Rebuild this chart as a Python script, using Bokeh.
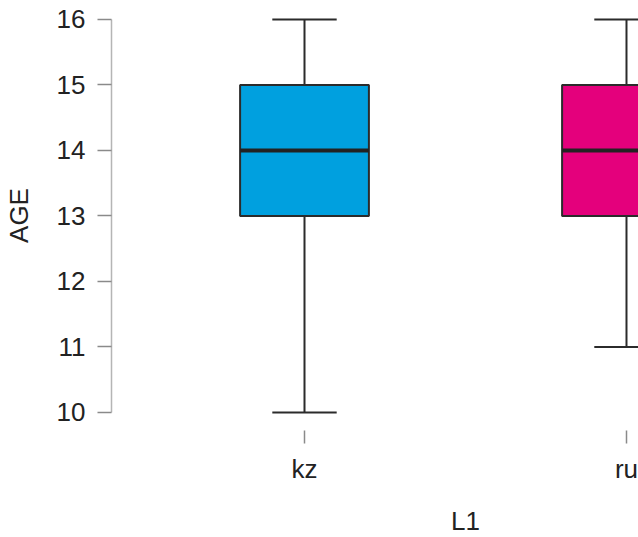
from bokeh.plotting import figure
from bokeh.models import ColumnDataSource, Range1d, FixedTicker, LinearAxis
from bokeh.embed import file_html
from bokeh.resources import INLINE

# ---- data ----
categories = ["kz", "ru"]
q_min = [10, 11]
q1 = [13, 13]
median = [14, 14]
q3 = [15, 15]
q_max = [16, 16]
colors = ["#00A0DF", "#E4007C"]
y_ticks = [10, 11, 12, 13, 14, 15, 16]
x_title = "L1"
y_title = "AGE"

pos = [i + 1 for i in range(len(categories))]
box_w = 0.4
cap_w = 0.2

src = ColumnDataSource(dict(
    x=pos,
    xl=[p_ - box_w / 2 for p_ in pos],
    xr=[p_ + box_w / 2 for p_ in pos],
    cl=[p_ - cap_w / 2 for p_ in pos],
    cr=[p_ + cap_w / 2 for p_ in pos],
    mn=q_min, q1=q1, med=median, q3=q3, mx=q_max, color=colors,
))

FONT = "Liberation Sans"
TXT = "#222222"
FS = "26px"

p = figure(
    output_backend="svg", toolbar_location=None,
    frame_width=528, frame_height=430,
    x_range=Range1d(0.4006, 2.0404), y_range=Range1d(9.725, 16.29),
    min_border_left=0, min_border_right=0, min_border_top=0, min_border_bottom=0,
)
p.outline_line_color = None
p.xgrid.visible = False
p.ygrid.visible = False
p.background_fill_color = "white"
p.border_fill_color = "white"

lc = "#2b2b2b"
# whiskers
p.segment(x0="x", x1="x", y0="q3", y1="mx", source=src, line_color=lc, line_width=2)
p.segment(x0="x", x1="x", y0="mn", y1="q1", source=src, line_color=lc, line_width=2)
# caps
p.segment(x0="cl", x1="cr", y0="mx", y1="mx", source=src, line_color=lc, line_width=2)
p.segment(x0="cl", x1="cr", y0="mn", y1="mn", source=src, line_color=lc, line_width=2)
# boxes
p.vbar(x="x", width=box_w, bottom="q1", top="q3", source=src,
       fill_color="color", line_color=lc, line_width=2)
# medians
p.segment(x0="xl", x1="xr", y0="med", y1="med", source=src, line_color="#222222", line_width=4)

# y axis
ya = p.yaxis[0]
ya.ticker = FixedTicker(ticks=y_ticks)
ya.bounds = (min(y_ticks), max(y_ticks))
ya.axis_line_color = "#b5b5b5"
ya.axis_line_width = 1.5
ya.major_tick_line_color = "#8a8a8a"
ya.major_tick_line_width = 1.5
ya.major_tick_out = 14
ya.major_tick_in = 0
ya.minor_tick_line_color = None
ya.major_label_standoff = 12
ya.major_label_text_font = FONT
ya.major_label_text_font_size = FS
ya.major_label_text_color = TXT
ya.axis_label = y_title
ya.axis_label_text_font = FONT
ya.axis_label_text_font_size = FS
ya.axis_label_text_font_style = "normal"
ya.axis_label_text_color = TXT
ya.axis_label_standoff = 20

# x axis (category ticks)
xa = p.xaxis[0]
xa.ticker = FixedTicker(ticks=pos)
xa.major_label_overrides = {p_: c for p_, c in zip(pos, categories)}
xa.axis_line_color = None
xa.major_tick_line_color = "#8a8a8a"
xa.major_tick_line_width = 1.5
xa.major_tick_out = 13
xa.major_tick_in = 0
xa.minor_tick_line_color = None
xa.major_label_standoff = 10
xa.major_label_text_font = FONT
xa.major_label_text_font_size = FS
xa.major_label_text_color = TXT

# x axis title, centred on the category span (as in the reference)
mid = sum(pos) / len(pos)
ta = LinearAxis(ticker=FixedTicker(ticks=[mid]),
                major_label_overrides={mid: x_title})
ta.axis_line_color = None
ta.major_tick_line_color = None
ta.minor_tick_line_color = None
ta.major_tick_out = 0
ta.major_tick_in = 0
ta.major_label_standoff = 19
ta.major_label_text_font = FONT
ta.major_label_text_font_size = FS
ta.major_label_text_color = TXT
p.add_layout(ta, "below")

open("out.html", "w").write(file_html(p, INLINE))
